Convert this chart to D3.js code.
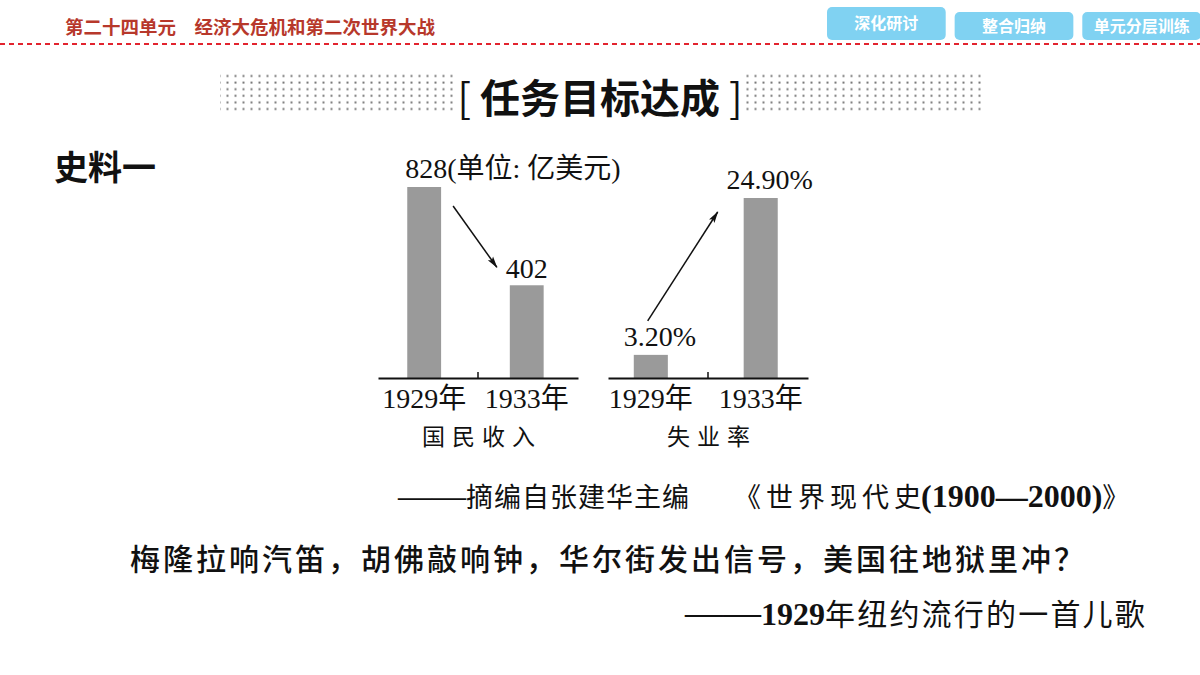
<!DOCTYPE html>
<html>
<head>
<meta charset="utf-8">
<script src="https://cdn.jsdelivr.net/npm/d3@7"></script>
<style>
  body { margin: 0; background: #fff; }
  svg { display: block; }
</style>
</head>
<body>
<div id="chart"></div>
<script>
// data
var years = ["1929年", "1933年"];
var incomeValues = [828, 402];          // 亿美元
var incomeLabels = ["828(单位: 亿美元)", "402"];
var joblessValues = [3.2, 24.9];        // %
var joblessLabels = ["3.20%", "24.90%"];
var panelTitles = ["国民收入", "失业率"];
var navButtons = ["深化研讨", "整合归纳", "单元分层训练"];

var serif = "'Liberation Serif', 'Times New Roman', 'Noto Sans CJK SC', serif";
var cjk = "'Noto Sans CJK SC', sans-serif";

var width = 1200, height = 675;
var svg = d3.select("#chart").append("svg")
  .attr("width", width)
  .attr("height", height);

var defs = svg.append("defs");

// arrow head
defs.append("marker")
  .attr("id", "arrow")
  .attr("viewBox", "0 0 12 8")
  .attr("refX", 11).attr("refY", 4)
  .attr("markerWidth", 12).attr("markerHeight", 8)
  .attr("markerUnits", "userSpaceOnUse")
  .attr("orient", "auto")
  .append("path")
  .attr("d", "M0,0.8L12,4L0,7.2L2.5,4Z")
  .attr("fill", "#111");

// dotted band for the title
var dots = defs.append("pattern")
  .attr("id", "dots")
  .attr("patternUnits", "userSpaceOnUse")
  .attr("width", 8).attr("height", 6.6);
dots.append("rect").attr("x", 2.5).attr("y", 2.4).attr("width", 2).attr("height", 2).attr("fill", "#7a7a7a");

// ---- header ----
svg.append("text")
  .attr("x", 65).attr("y", 34)
  .style("font-family", cjk).style("font-weight", "bold")
  .style("font-size", "18.5px").attr("fill", "#b7382b")
  .text("第二十四单元　经济大危机和第二次世界大战");

svg.append("line")
  .attr("x1", 0).attr("x2", width).attr("y1", 44).attr("y2", 44)
  .attr("stroke", "#e2232e").attr("stroke-width", 2)
  .attr("stroke-dasharray", "5,4");

var btnX = d3.scaleBand().domain(navButtons).range([827, 1201]).paddingInner(0.07);
var btn = svg.selectAll("g.btn").data(navButtons).enter().append("g").attr("class", "btn");
btn.append("rect")
  .attr("x", function(d) { return btnX(d); })
  .attr("y", function(d, i) { return i === 0 ? 7 : 12; })
  .attr("width", btnX.bandwidth())
  .attr("height", function(d, i) { return i === 0 ? 33 : 28; })
  .attr("rx", 5)
  .attr("fill", "#80d2f2");
btn.append("text")
  .attr("x", function(d) { return btnX(d) + btnX.bandwidth() / 2; })
  .attr("y", function(d, i) { return i === 0 ? 29 : 32; })
  .attr("text-anchor", "middle")
  .style("font-family", cjk).style("font-weight", "bold").style("font-size", "16px")
  .attr("fill", "#fff")
  .text(function(d) { return d; });

// ---- section title ----
svg.append("rect").attr("x", 220).attr("y", 72).attr("width", 238).attr("height", 40).attr("fill", "url(#dots)");
svg.append("rect").attr("x", 742).attr("y", 72).attr("width", 240).attr("height", 40).attr("fill", "url(#dots)");
svg.append("text")
  .attr("x", 600).attr("y", 113)
  .attr("text-anchor", "middle")
  .style("font-family", cjk).style("font-size", "40px").style("font-weight", "bold")
  .attr("fill", "#111")
  .html("<tspan style='font-weight:normal'>[</tspan> 任务目标达成 <tspan style='font-weight:normal'>]</tspan>");

svg.append("text")
  .attr("x", 54).attr("y", 180)
  .style("font-family", cjk).style("font-size", "34px").style("font-weight", "bold")
  .attr("fill", "#111")
  .text("史料一");

// ---- the two small bar charts ----
var baseY = 378;
var panels = [
  { values: incomeValues, labels: incomeLabels, title: panelTitles[0], range: [378, 578], top: 187 },
  { values: joblessValues, labels: joblessLabels, title: panelTitles[1], range: [608, 808], top: 198 }
];

panels.forEach(function(p, pi) {
  var x = d3.scaleBand().domain(years).range(p.range)
    .paddingInner(pi === 0 ? 0.67 : 0.69)
    .paddingOuter(pi === 0 ? 0.31 : 0.255)
    .align(0.46);
  var y = d3.scaleLinear().domain([0, d3.max(p.values)]).range([baseY, p.top]);
  p.x = x; p.y = y;

  var g = svg.append("g").attr("class", "panel");

  g.selectAll("rect.bar").data(p.values).enter().append("rect")
    .attr("class", "bar")
    .attr("x", function(d, i) { return x(years[i]); })
    .attr("y", function(d) { return y(d); })
    .attr("width", x.bandwidth())
    .attr("height", function(d) { return baseY - y(d); })
    .attr("fill", "#9a9a9a");

  var axis = d3.axisBottom(x).tickSize(0).tickSizeOuter(0).tickPadding(10);
  var ax = g.append("g").attr("transform", "translate(0," + baseY + ")").call(axis);
  ax.select(".domain").attr("stroke", "#111").attr("stroke-width", 2);
  ax.selectAll("text")
    .style("font-family", serif).style("font-size", "28px").attr("fill", "#111");

  var mid = (p.range[0] + p.range[1]) / 2;
  g.append("line")
    .attr("x1", mid).attr("x2", mid).attr("y1", baseY).attr("y2", baseY - 6)
    .attr("stroke", "#111").attr("stroke-width", 1.5);

  g.append("text")
    .attr("x", mid + 4).attr("y", 445)
    .attr("text-anchor", "middle")
    .style("font-family", cjk).style("font-size", "23px").style("letter-spacing", "7px")
    .attr("fill", "#111")
    .text(p.title);
});

// value labels
var inc = panels[0], job = panels[1];
svg.append("text")
  .attr("x", inc.x(years[0]) - 2).attr("y", inc.y(incomeValues[0]) - 9)
  .style("font-family", serif).style("font-size", "28px").attr("fill", "#111")
  .text(incomeLabels[0]);
svg.append("text")
  .attr("x", inc.x(years[1]) + inc.x.bandwidth() / 2).attr("y", inc.y(incomeValues[1]) - 7)
  .attr("text-anchor", "middle")
  .style("font-family", serif).style("font-size", "28px").attr("fill", "#111")
  .text(incomeLabels[1]);
svg.selectAll("text.jl").data(joblessValues).enter().append("text")
  .attr("class", "jl")
  .attr("x", function(d, i) { return job.x(years[i]) + job.x.bandwidth() / 2 + 9; })
  .attr("y", function(d) { return job.y(d) - 9; })
  .attr("text-anchor", "middle")
  .style("font-family", serif).style("font-size", "28px").attr("fill", "#111")
  .text(function(d, i) { return joblessLabels[i]; });

// arrows showing the change
var bw = inc.x.bandwidth();
svg.append("line")
  .attr("x1", inc.x(years[0]) + bw + 12).attr("y1", inc.y(incomeValues[0]) + 19)
  .attr("x2", inc.x(years[1]) - 13).attr("y2", inc.y(incomeValues[1]) - 18)
  .attr("stroke", "#111").attr("stroke-width", 1.5)
  .attr("marker-end", "url(#arrow)");
svg.append("line")
  .attr("x1", job.x(years[0]) + bw / 2 - 3).attr("y1", job.y(joblessValues[0]) - 34)
  .attr("x2", job.x(years[1]) - 26).attr("y2", job.y(joblessValues[1]) + 14)
  .attr("stroke", "#111").attr("stroke-width", 1.5)
  .attr("marker-end", "url(#arrow)");

// ---- source and quote ----
svg.append("text")
  .attr("x", 398).attr("y", 507)
  .style("font-family", cjk).style("font-size", "27px").attr("fill", "#111")
  .html("<tspan style=\"font-family:" + serif + ";font-size:34px\">——</tspan>"
    + "<tspan style=\"letter-spacing:1px\">摘编自张建华主编</tspan>"
    + "<tspan dx=\"44\" style=\"letter-spacing:5px\">《世界现代史</tspan>"
    + "<tspan dx=\"-5\" style=\"font-family:" + serif + ";font-weight:bold;font-size:32px\">(1900—2000)</tspan>》");

svg.append("text")
  .attr("x", 130).attr("y", 570)
  .style("font-family", cjk).style("font-size", "30px").style("font-weight", "500")
  .style("letter-spacing", "3px").attr("fill", "#111")
  .text("梅隆拉响汽笛，胡佛敲响钟，华尔街发出信号，美国往地狱里冲？");

svg.append("text")
  .attr("x", 685).attr("y", 625)
  .style("font-family", cjk).style("font-size", "30px").attr("fill", "#111")
  .html("<tspan style=\"font-family:" + serif + ";font-size:38px\">——</tspan>"
    + "<tspan style=\"font-family:" + serif + ";font-weight:bold;font-size:32px\">1929</tspan>"
    + "<tspan style=\"letter-spacing:2.2px\">年纽约流行的一首儿歌</tspan>");
</script>
</body>
</html>
